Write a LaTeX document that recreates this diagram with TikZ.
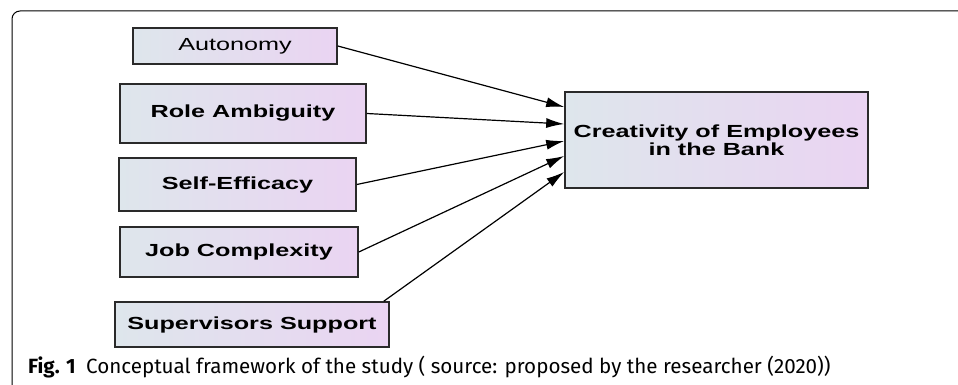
\documentclass[tikz,border=0pt]{standalone}
\usepackage{fontspec}
\usetikzlibrary{calc,arrows.meta}
\setmainfont{Liberation Sans}
\newfontfamily\boxfont[FakeStretch=1.44]{Liberation Sans}
\newfontfamily\capfont{Fira Sans}
\definecolor{boxleft}{HTML}{DEE6EC}
\definecolor{boxright}{HTML}{EAD4F2}
\definecolor{boxline}{HTML}{2A2A2A}
\tikzset{
  varbox/.style={draw=boxline, line width=1.6pt, left color=boxleft, right color=boxright,
    inner sep=0pt, align=center, font=\boxfont\fontsize{17.5}{17.5}\selectfont},
  conn/.style={line width=1.2pt, -{Latex[length=18pt,width=10pt]}}
}
\begin{document}
\begin{tikzpicture}[x=1pt,y=-1pt]
\useasboundingbox (0,0) rectangle (958,385);
% frame
\draw[line width=1pt, rounded corners=8pt] (12,385) -- (12,11) -- (958,11);
% boxes
\node[varbox, minimum width=204pt, minimum height=36pt] (a) at (235,46) {Autonomy};
\node[varbox, minimum width=246pt, minimum height=59pt] (b) at (243,113.5) {\bfseries Role Ambiguity};
\node[varbox, minimum width=237pt, minimum height=53pt] (s) at (237.5,184.5) {\bfseries Self-Efficacy};
\node[varbox, minimum width=238pt, minimum height=50pt] (j) at (239,252) {\bfseries Job Complexity};
\node[varbox, minimum width=274pt, minimum height=45pt] (e) at (252,324.5) {\bfseries Supervisors Support};
\node[varbox, minimum width=303pt, minimum height=96pt] (c) at (716.5,140) {\bfseries Creativity of Employees\\\bfseries in the Bank};
% connector ends
\coordinate (es) at ($(e.north east)+(-6,0)$);
\coordinate (t1) at ($(c.west)+(0,-33)$);
\coordinate (t2) at ($(c.west)+(0,-16)$);
\coordinate (t3) at ($(c.west)+(0,1)$);
\coordinate (t4) at ($(c.west)+(0,16)$);
\coordinate (t5) at ($(c.west)+(0,32)$);
\draw[conn] (a.east) -- (t1);
\draw[conn] (b.east) -- (t2);
\draw[conn] (s.east) -- (t3);
\draw[conn] (j.east) -- (t4);
\draw[conn] (es) -- (t5);
% caption
\node[anchor=base west, inner sep=0pt] (cap) at (28,373)
  {\capfont\fontsize{20.6}{23}\selectfont\textbf{Fig. 1}\hspace{0.5em}Conceptual framework of the study ( source: proposed by the researcher (2020))};
\end{tikzpicture}
\end{document}
